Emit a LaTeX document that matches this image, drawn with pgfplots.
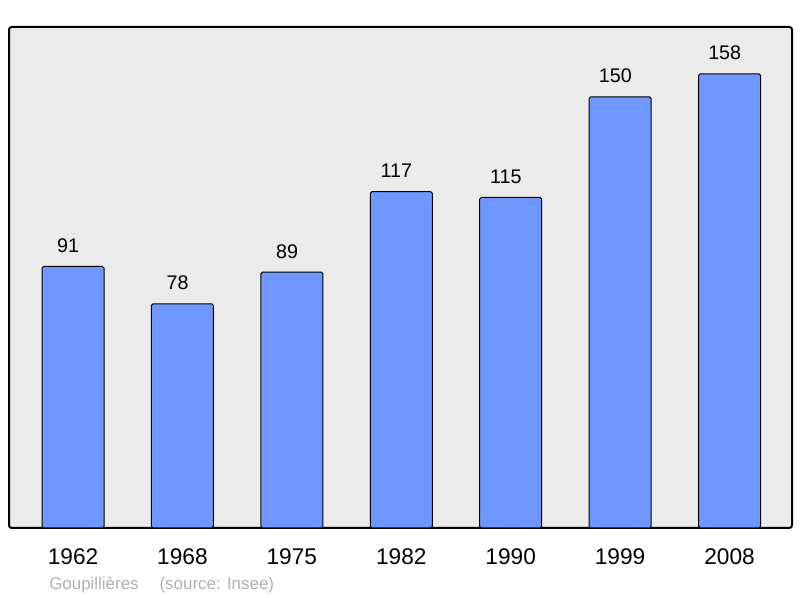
\documentclass[border=0pt]{standalone}
\usepackage{fontspec}
\setmainfont{Liberation Sans}
\usepackage{pgfplots}
\pgfplotsset{compat=1.18}
\definecolor{barblue}{HTML}{7097FF}
\definecolor{bgcol}{HTML}{EBEBEB}
\definecolor{srcgray}{HTML}{B0B0B0}
\begin{document}
\begin{tikzpicture}[x=1pt,y=1pt]
\path[use as bounding box] (0,0) rectangle (600,448.5);
\begin{axis}[
  at={(6.75pt,52.5pt)}, anchor=south west,
  scale only axis, width=587.25pt, height=375.75pt,
  xmin=-0.585, xmax=6.571, ymin=0, ymax=174.3,
  /pgf/number format/assume math mode=true,
  axis background/.style={fill=bgcol, rounded corners=2pt},
  axis line style={line width=1.5pt, rounded corners=2pt},
  ytick=\empty,
  xtick={0,1,2,3,4,5,6},
  xticklabels={1962,1968,1975,1982,1990,1999,2008},
  major tick length=0pt,
  xticklabel style={anchor=base, yshift=-27.75pt, font=\fontsize{17}{20}\selectfont},
  ybar, bar width=46.5pt,
  nodes near coords,
  every node near coord/.append style={anchor=base, xshift=-3.6pt, yshift=10.6pt, font=\fontsize{14.8}{17}\selectfont, black},
]
\addplot[draw=black, line width=0.75pt, fill=barblue, rounded corners=1.2pt] coordinates {
(0,91) (1,78) (2,89) (3,117) (4,115) (5,150) (6,158)};
\end{axis}
\node[anchor=base west, inner sep=0pt, text=srcgray, font=\fontsize{12.7}{15}\selectfont] at (36.75,6.3) {Goupillières};
\node[anchor=base west, inner sep=0pt, text=srcgray, font=\fontsize{12.7}{15}\selectfont] at (119.5,6.3) {(source: Insee)};
\end{tikzpicture}
\end{document}
